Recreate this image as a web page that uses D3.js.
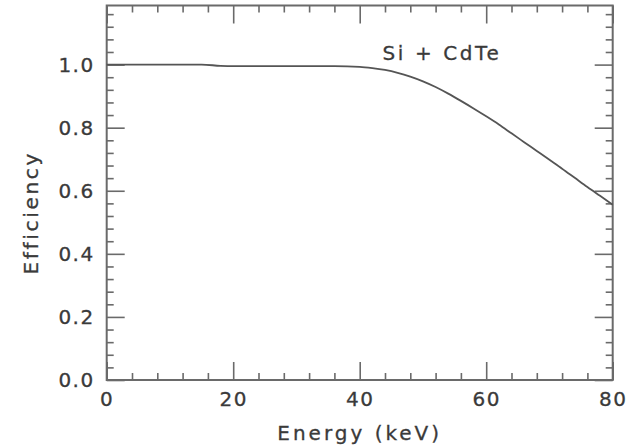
<!DOCTYPE html>
<html><head><meta charset="utf-8">
<script src="https://cdn.jsdelivr.net/npm/d3@7"></script>
<style>
html,body{margin:0;padding:0;background:#fff;}
svg{display:block;}
text{font-family:"DejaVu Sans",sans-serif;fill:#3a3a3a;stroke:#3a3a3a;stroke-width:0.3px;}
</style></head>
<body><svg id="c" width="638" height="446"></svg>
<script>
const energy = [0, 10, 15, 18, 20, 30, 36, 40, 42, 44, 46, 48, 50, 52, 54, 56, 58, 60, 62, 64, 66, 68, 70, 72, 74, 76, 78, 80];
const efficiency = [1.0, 1.0, 1.0, 0.996, 0.995, 0.995, 0.995, 0.993, 0.989, 0.983, 0.974, 0.962, 0.947, 0.929, 0.908, 0.885, 0.861, 0.836, 0.810, 0.782, 0.754, 0.726, 0.698, 0.670, 0.641, 0.612, 0.584, 0.556];
const xMajor = [0, 20, 40, 60, 80];
const yMajor = [0.0, 0.2, 0.4, 0.6, 0.8, 1.0];
const seriesLabel = "Si + CdTe";
const xTitle = "Energy (keV)";
const yTitle = "Efficiency";

const L = 106.7, R = 612.7, T = 5.5, B = 380;
const x = d3.scaleLinear().domain([0, 80]).range([L, R]);
const y = d3.scaleLinear().domain([0, 1]).range([B, 64.6]);
const yTop = y.invert(T);
const xMinor = d3.range(0, 80.001, 4).filter(v => v % 20 !== 0);
const yMinor = d3.range(0, yTop, 0.04).map(v => +v.toFixed(2)).filter(v => Math.abs(v * 5 - Math.round(v * 5)) > 1e-6);

const svg = d3.select("#c");
const col = "#6a6a6a";

function styleAxis(g) {
  g.select(".domain").remove();
  g.selectAll(".tick line").attr("stroke", col).attr("stroke-width", 1.6);
}
// bottom
svg.append("g").attr("transform", `translate(0,${B})`).call(d3.axisBottom(x).tickValues(xMajor).tickSize(-18).tickFormat("")).call(styleAxis);
svg.append("g").attr("transform", `translate(0,${B})`).call(d3.axisBottom(x).tickValues(xMinor).tickSize(-7).tickFormat("")).call(styleAxis);
// top
svg.append("g").attr("transform", `translate(0,${T})`).call(d3.axisTop(x).tickValues(xMajor).tickSize(-18).tickFormat("")).call(styleAxis);
svg.append("g").attr("transform", `translate(0,${T})`).call(d3.axisTop(x).tickValues(xMinor).tickSize(-7).tickFormat("")).call(styleAxis);
// left
svg.append("g").attr("transform", `translate(${L},0)`).call(d3.axisLeft(y).tickValues(yMajor).tickSize(-18).tickFormat("")).call(styleAxis);
svg.append("g").attr("transform", `translate(${L},0)`).call(d3.axisLeft(y).tickValues(yMinor).tickSize(-7).tickFormat("")).call(styleAxis);
// right
svg.append("g").attr("transform", `translate(${R},0)`).call(d3.axisRight(y).tickValues(yMajor).tickSize(-18).tickFormat("")).call(styleAxis);
svg.append("g").attr("transform", `translate(${R},0)`).call(d3.axisRight(y).tickValues(yMinor).tickSize(-7).tickFormat("")).call(styleAxis);

// labels
const xl = svg.append("g").attr("transform", `translate(0,${B})`)
  .call(d3.axisBottom(x).tickValues(xMajor).tickSize(0).tickPadding(12).tickFormat(d3.format("d")));
xl.select(".domain").remove();
xl.selectAll("text").attr("font-size", 20).attr("font-family", "DejaVu Sans").attr("fill", "#3a3a3a").attr("letter-spacing", 1.5);

const yl = svg.append("g").attr("transform", `translate(${L},0)`)
  .call(d3.axisLeft(y).tickValues(yMajor).tickSize(0).tickPadding(12).tickFormat(d3.format(".1f")));
yl.select(".domain").remove();
yl.selectAll("text").attr("font-size", 20).attr("font-family", "DejaVu Sans").attr("fill", "#3a3a3a").attr("letter-spacing", 1.5);

// frame
svg.append("rect").attr("x", L).attr("y", T).attr("width", R - L).attr("height", B - T)
  .attr("fill", "none").attr("stroke", col).attr("stroke-width", 2);

// curve
const line = d3.line().x((d, i) => x(energy[i])).y(d => y(d)).curve(d3.curveMonotoneX);
svg.append("path").attr("d", line(efficiency)).attr("fill", "none").attr("stroke", "#555").attr("stroke-width", 1.8);

svg.append("text").attr("x", x(43.6)).attr("y", 60).attr("font-size", 20).attr("letter-spacing", 2.6).text(seriesLabel);
svg.append("text").attr("x", (L + R) / 2).attr("y", 440).attr("text-anchor", "middle").attr("font-size", 20).attr("letter-spacing", 3).text(xTitle);
svg.append("text").attr("transform", `translate(38,${(B + T) / 2 + 20}) rotate(-90)`).attr("text-anchor", "middle").attr("font-size", 20).attr("letter-spacing", 2.7).text(yTitle);
</script></body></html>
